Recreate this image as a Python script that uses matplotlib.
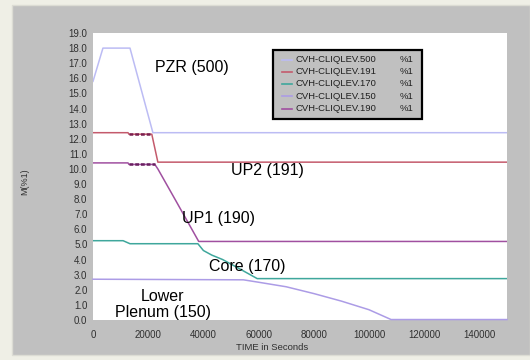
import matplotlib
matplotlib.use("Agg")
import matplotlib.pyplot as plt
from matplotlib.patches import Rectangle
from matplotlib.lines import Line2D
from matplotlib.ticker import FormatStrFormatter, MultipleLocator

plt.rcParams["font.family"] = ["Liberation Sans", "DejaVu Sans"]

# liquid level histories, time in seconds
t500 = [0, 3600, 13400, 21700, 150000]
v500 = [15.8, 18.0, 18.0, 12.4, 12.4]

t191 = [0, 12700, 13000, 21300, 23500, 150000]
v191 = [12.4, 12.4, 12.3, 12.3, 10.45, 10.45]

t190 = [0, 12700, 13000, 22400, 23500, 30000, 38300, 150000]
v190 = [10.4, 10.4, 10.3, 10.3, 10.0, 7.9, 5.2, 5.2]

t170 = [0, 10900, 13400, 38000, 40000, 43000, 47000, 54000, 59500, 150000]
v170 = [5.25, 5.25, 5.05, 5.05, 4.6, 4.3, 4.0, 3.3, 2.74, 2.74]

t150 = [0, 54500, 60000, 70000, 80000, 90000, 100000, 108000, 150000]
v150 = [2.7, 2.66, 2.5, 2.2, 1.75, 1.25, 0.68, 0.03, 0.03]

names = ["CVH-CLIQLEV.500", "CVH-CLIQLEV.191", "CVH-CLIQLEV.170",
         "CVH-CLIQLEV.150", "CVH-CLIQLEV.190"]
colors = ["#bcbcf4", "#c45a6c", "#3fa79c", "#ac9ce6", "#a050a0"]

W, H = 530, 360
fig = plt.figure(figsize=(W / 100, H / 100), dpi=100, facecolor="#efefe6")
# grey panel behind the plot
fig.patches.append(Rectangle((12 / W, 5 / H), (W - 12) / W, (355 - 5) / H,
                             transform=fig.transFigure, facecolor="#c0c0c0",
                             edgecolor="#dcdcd4", linewidth=1.0, zorder=-10))

L, R, T, B = 93, 507, 33, 320
ax = fig.add_axes([L / W, (H - B) / H, (R - L) / W, (B - T) / H])
ax.set_facecolor("white")
for s in ax.spines.values():
    s.set_visible(False)

lw = 1.1
ax.plot(t500, v500, color=colors[0], lw=lw)
ax.plot(t150, v150, color=colors[3], lw=lw, clip_on=False)
ax.plot(t170, v170, color=colors[2], lw=lw)
ax.plot(t191, v191, color=colors[1], lw=lw)
ax.plot(t190, v190, color=colors[4], lw=lw)
# dense sample points show up as a darker dotted band
ax.plot(t191[2:4], v191[2:4], color="#7a2050", lw=1.8, ls=(0, (1.5, 0.8)))
ax.plot(t190[2:4], v190[2:4], color="#6a2060", lw=1.8, ls=(0, (1.5, 0.8)))

ax.set_xlim(0, 150000)
ax.set_ylim(0, 19)
ax.xaxis.set_major_locator(MultipleLocator(20000))
ax.yaxis.set_major_locator(MultipleLocator(1))
ax.yaxis.set_major_formatter(FormatStrFormatter("%.1f"))
ax.tick_params(length=0, labelsize=7, labelcolor="#303030")
ax.tick_params(axis="y", pad=4)
ax.tick_params(axis="x", pad=7)

fig.text(25 / W, 1 - 182 / H, "M(%1)", rotation=90, fontsize=6.5,
         color="#303030", ha="center", va="center")
fig.text(272 / W, 1 - 347 / H, "TIME in Seconds", fontsize=6.8,
         color="#303030", ha="center", va="center")

# region labels
lab = dict(fontsize=11.5, color="black", ha="center", va="center")
ax.text(35800, 16.7, "PZR (500)", **lab)
ax.text(63300, 9.9, "UP2 (191)", **lab)
ax.text(45600, 6.75, "UP1 (190)", **lab)
ax.text(56000, 3.55, "Core (170)", **lab)
ax.text(25300, 1.05, "Lower\nPlenum (150)", linespacing=1.1, **lab)

# legend box
def fx(px):
    return (px - L) / (R - L)

def fy(py):
    return (B - py) / (B - T)

ax.add_patch(Rectangle((fx(273), fy(119)), fx(422) - fx(273), fy(50) - fy(119),
                       transform=ax.transAxes, facecolor="#c0c0c0",
                       edgecolor="black", linewidth=1.6, zorder=5))
rows = [60, 72, 84, 96.5, 109]
for py, name, c in zip(rows, names, colors):
    ax.add_line(Line2D([fx(282), fx(292)], [fy(py), fy(py)], color=c, lw=1.2,
                       transform=ax.transAxes, zorder=6))
    ax.text(fx(296), fy(py), name, transform=ax.transAxes, fontsize=6.8,
            color="#202020", va="center", ha="left", zorder=6)
    ax.text(fx(400), fy(py), "%1", transform=ax.transAxes, fontsize=6.8,
            color="#202020", va="center", ha="left", zorder=6)

fig.savefig("out.png", dpi=100, facecolor=fig.get_facecolor())
